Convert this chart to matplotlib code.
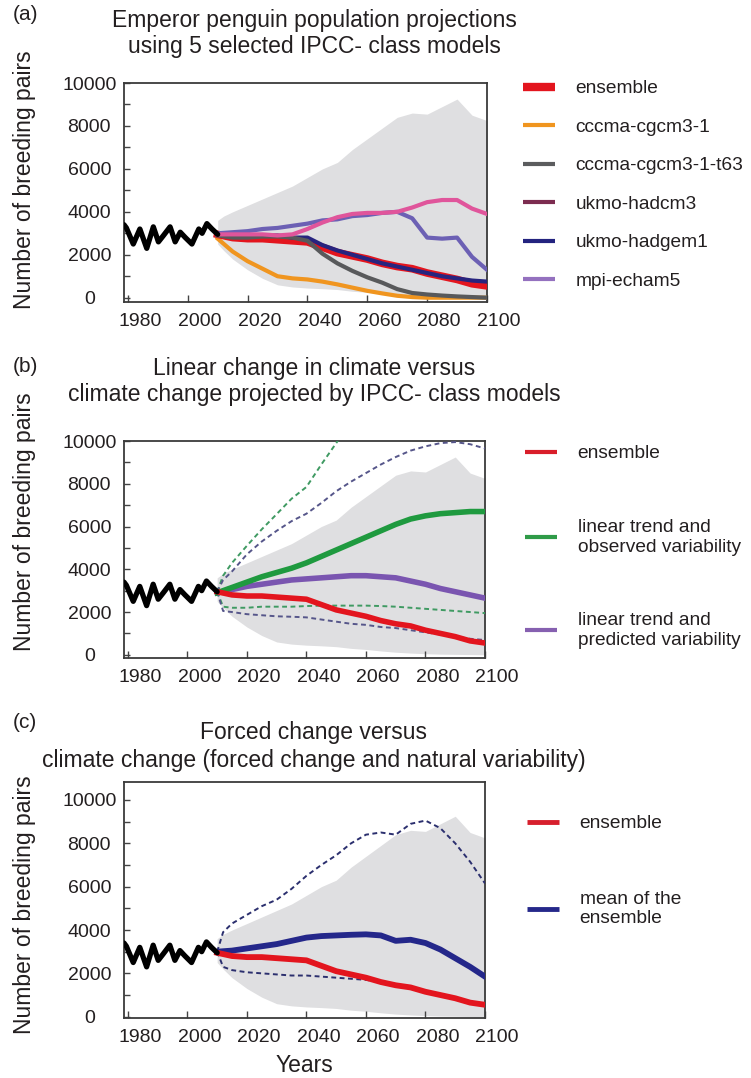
import matplotlib
matplotlib.use("Agg")
import matplotlib.pyplot as plt
import matplotlib.transforms as mtransforms
from matplotlib.lines import Line2D

# observed population (black line, same in all panels)
obs_years = [1978.7, 1979.5, 1981.8, 1984.0, 1986.3, 1988.5, 1990.2, 1991.9, 1994.1,
             1995.8, 1997.5, 1999.2, 2001.4, 2003.7, 2004.8, 2006.4, 2008.1, 2010.0]
obs_pairs = [3400, 3250, 2500, 3200, 2300, 3300, 2600, 2900, 3300,
             2600, 3050, 2800, 2500, 3200, 3000, 3450, 3200, 2950]

proj_years = list(range(2010, 2101, 5))
bound_years = [2010, 2012] + list(range(2015, 2101, 5))

# grey envelope of all projections
band_upper = [3600, 3800, 4000, 4300, 4600, 4900, 5200, 5600, 6000, 6300,
              6900, 7400, 7900, 8400, 8600, 8550, 8900, 9250, 8500, 8250]
band_lower = [2500, 2200, 1800, 1300, 900, 600, 500, 450, 420, 380,
              300, 250, 180, 120, 80, 50, 30, 20, 10, 0]

# panel (a): models
ensemble = [2950, 2800, 2750, 2750, 2700, 2650, 2600, 2350, 2100, 1950,
            1800, 1600, 1450, 1350, 1150, 1000, 850, 650, 550]
cccma_cgcm3_1 = [2750, 2150, 1700, 1350, 1000, 900, 850, 750, 620, 470,
                 320, 200, 90, 30, 0, 0, 0, 0, 0]
cccma_t63 = [2900, 2800, 2800, 2850, 2850, 2800, 2650, 2050, 1600, 1250,
             950, 700, 400, 220, 150, 100, 60, 30, 0]
ukmo_hadcm3 = [2950, 2950, 2950, 2950, 2900, 2950, 3200, 3500, 3750, 3900,
               3950, 3950, 4000, 4200, 4450, 4550, 4550, 4150, 3900]
ukmo_hadgem1 = [2950, 2850, 2850, 2900, 2900, 2800, 2800, 2450, 2200, 2000,
                1800, 1600, 1450, 1300, 1150, 1000, 900, 800, 750]
mpi_echam5 = [3000, 3050, 3100, 3200, 3250, 3350, 3450, 3600, 3650, 3800,
              3850, 3950, 4000, 3700, 2800, 2750, 2800, 1900, 1300]

# panel (b): linear trends
trend_observed = [2900, 3150, 3400, 3650, 3850, 4050, 4300, 4600, 4900, 5200,
                  5500, 5800, 6100, 6350, 6500, 6600, 6650, 6700, 6700]
trend_predicted = [2900, 3050, 3200, 3300, 3400, 3500, 3550, 3600, 3650, 3700,
                   3700, 3650, 3600, 3450, 3300, 3100, 2950, 2800, 2650]
observed_hi = [2950, 3700, 4300, 5100, 5870, 6580, 7300, 7850, 8900, 9900,
               10900, 11900, 12900, 13900, 14900, 15900, 16900, 17900, 18900, 19900]
observed_lo = [2950, 2250, 2200, 2200, 2250, 2250, 2250, 2280, 2300, 2300,
               2300, 2300, 2280, 2250, 2200, 2150, 2100, 2050, 2000, 1950]
predicted_hi = [2950, 3500, 3900, 4700, 5300, 5800, 6250, 6600, 7100, 7650,
                8100, 8500, 8900, 9250, 9550, 9750, 9900, 9950, 9850, 9650]
predicted_lo = [2950, 2050, 2000, 1900, 1850, 1800, 1780, 1750, 1650, 1550,
                1450, 1400, 1300, 1250, 1150, 1050, 950, 850, 750, 690]

# panel (c): mean of the ensemble
ensemble_mean = [3000, 3050, 3150, 3250, 3350, 3500, 3650, 3720, 3750, 3780,
                 3800, 3750, 3500, 3550, 3400, 3100, 2700, 2300, 1850]
mean_hi = [3000, 3900, 4300, 4700, 5100, 5400, 5900, 6500, 7000, 7450,
           8000, 8400, 8500, 8400, 8900, 9050, 8700, 8000, 7150, 6150]
mean_lo = [3000, 2300, 2150, 2050, 2000, 1950, 1900, 1900, 1850, 1800,
           1750, 1700, 1600, 1450, 1350, 1150, 1000, 850, 650, 550]

x_ticks = [1980, 2000, 2020, 2040, 2060, 2080, 2100]
y_ticks = [0, 2000, 4000, 6000, 8000, 10000]

TXT = "#231f20"
GREY = "#dfdfe1"

plt.rcParams["font.family"] = ["Liberation Sans", "DejaVu Sans"]

W, H = 751, 1078


def px_box(left, top, right, bottom):
    return [left / W, 1 - bottom / H, (right - left) / W, (bottom - top) / H]


def style_axis(fig, ax, ylim):
    ax.set_xlim(1978.7, 2100)
    ax.set_ylim(*ylim)
    ax.set_xticks(x_ticks)
    ax.set_yticks(y_ticks)
    ax.set_yticks(range(0, 10001, 1000), minor=True)
    ax.tick_params(axis="both", which="both", direction="in", colors="#444444",
                   labelcolor=TXT, width=1)
    ax.tick_params(axis="x", which="major", length=5, pad=8, labelsize=14)
    ax.tick_params(axis="y", which="major", length=4, pad=25, labelsize=14)
    ax.tick_params(axis="y", which="minor", length=4)
    for sp in ax.spines.values():
        sp.set_linewidth(1.3)
        sp.set_color("#3a3a3a")
    offset = mtransforms.ScaledTranslation(0.12, 0, fig.dpi_scale_trans)
    for lab in ax.get_xticklabels():
        lab.set_transform(lab.get_transform() + offset)
    for lab in ax.get_yticklabels():
        lab.set_horizontalalignment("center")


def draw_base(ax):
    ax.fill_between(bound_years, band_lower, band_upper, color=GREY, lw=0, zorder=1)
    ax.plot(obs_years, obs_pairs, color="black", lw=3.8, solid_joinstyle="round",
            solid_capstyle="round", zorder=5)


def proxy(color, lw):
    return Line2D([], [], color=color, lw=lw, solid_capstyle="butt")


def add_legend(fig, handles, labels, left, top, spacing):
    fig.legend(handles, labels, loc="upper left",
               bbox_to_anchor=(left / W, 1 - top / H), frameon=False,
               borderpad=0, borderaxespad=0, fontsize=13.8,
               handlelength=1.65, handletextpad=1.1,
               labelspacing=spacing, labelcolor=TXT)


def main():
    fig = plt.figure(figsize=(7.51, 10.78), dpi=100)

    ax_a = fig.add_axes(px_box(124, 83, 487, 302))
    ax_b = fig.add_axes(px_box(124, 441, 485, 658))
    ax_c = fig.add_axes(px_box(124, 782, 485, 1018))

    # ---- (a)
    draw_base(ax_a)
    ax_a.plot(proj_years, cccma_cgcm3_1, color="#f0951f", lw=3, zorder=3)
    ax_a.plot(proj_years, ensemble, color="#e3151e", lw=5.5, zorder=3)
    ax_a.plot(proj_years, ukmo_hadgem1, color="#27247f", lw=3, zorder=4)
    ax_a.plot(proj_years, cccma_t63, color="#58595b", lw=3, zorder=4)
    ax_a.plot(proj_years, mpi_echam5, color="#6c60b4", lw=3, zorder=4)
    ax_a.plot(proj_years, ukmo_hadcm3, color="#e0559b", lw=3, zorder=4)
    style_axis(fig, ax_a, (-200, 10000))

    handles_a = [proxy("#e3151e", 6), proxy("#f0951f", 3), proxy("#5b5c5e", 3),
                 proxy("#7c2c50", 3), proxy("#23237f", 3), proxy("#9471bf", 3)]
    labels_a = ["ensemble", "cccma-cgcm3-1", "cccma-cgcm3-1-t63",
                "ukmo-hadcm3", "ukmo-hadgem1", "mpi-echam5"]
    add_legend(fig, handles_a, labels_a, 523, 80, 1.1)

    # ---- (b)
    dash = (0, (2.5, 1.8))
    draw_base(ax_b)
    ax_b.plot(bound_years, observed_hi, color="#3f9a62", lw=1.4, ls=dash, zorder=3)
    ax_b.plot(bound_years, observed_lo, color="#3f9a62", lw=1.4, ls=dash, zorder=3)
    ax_b.plot(bound_years, predicted_hi, color="#56568a", lw=1.4, ls=dash, zorder=3)
    ax_b.plot(bound_years, predicted_lo, color="#56568a", lw=1.4, ls=dash, zorder=3)
    ax_b.plot(proj_years, trend_predicted, color="#7a55b0", lw=4, zorder=4)
    ax_b.plot(proj_years, trend_observed, color="#1f9a3f", lw=4, zorder=4)
    ax_b.plot(proj_years, ensemble, color="#e3151e", lw=4, zorder=4)
    style_axis(fig, ax_b, (-150, 10000))

    handles_b = [proxy("#d91e2a", 3), proxy("#2f9b48", 3), proxy("#8660b0", 3)]
    labels_b = ["ensemble", "linear trend and\nobserved variability",
                "linear trend and\npredicted variability"]
    add_legend(fig, handles_b, labels_b, 525, 445, 2.95)

    # ---- (c)
    draw_base(ax_c)
    ax_c.plot(bound_years, mean_hi, color="#2b2f6e", lw=1.4, ls=dash, zorder=3)
    ax_c.plot(bound_years, mean_lo, color="#2b2f6e", lw=1.4, ls=dash, zorder=3)
    ax_c.plot(proj_years, ensemble_mean, color="#24278a", lw=4.2, zorder=4)
    ax_c.plot(proj_years, ensemble, color="#e3151e", lw=4.2, zorder=4)
    style_axis(fig, ax_c, (-60, 10830))
    ax_c.set_xlabel("Years", fontsize=16.5, color=TXT, labelpad=6)

    handles_c = [proxy("#d71f2d", 3.5), proxy("#25288a", 3.5)]
    labels_c = ["ensemble", "mean of the\nensemble"]
    add_legend(fig, handles_c, labels_c, 527, 815, 3.05)

    # titles, panel letters and y labels
    fs_title = 16.5
    titles = [("Emperor penguin population projections", 20),
              ("using 5 selected IPCC- class models", 47),
              ("Linear change in climate versus", 368),
              ("climate change projected by IPCC- class models", 395),
              ("Forced change versus", 733),
              ("climate change (forced change and natural variability)", 760)]
    for text, y in titles:
        fig.text(314 / W, 1 - y / H, text, ha="center", va="center",
                 fontsize=fs_title, color=TXT)

    for letter, y in [("(a)", 15), ("(b)", 367), ("(c)", 723)]:
        fig.text(13 / W, 1 - y / H, letter, ha="left", va="center",
                 fontsize=15, color=TXT)

    for y in [180, 522, 905]:
        fig.text(25 / W, 1 - y / H, "Number of breeding pairs", rotation=90,
                 ha="center", va="center", fontsize=16.5, color=TXT)

    fig.savefig("out.png", dpi=100)


if __name__ == "__main__":
    main()
